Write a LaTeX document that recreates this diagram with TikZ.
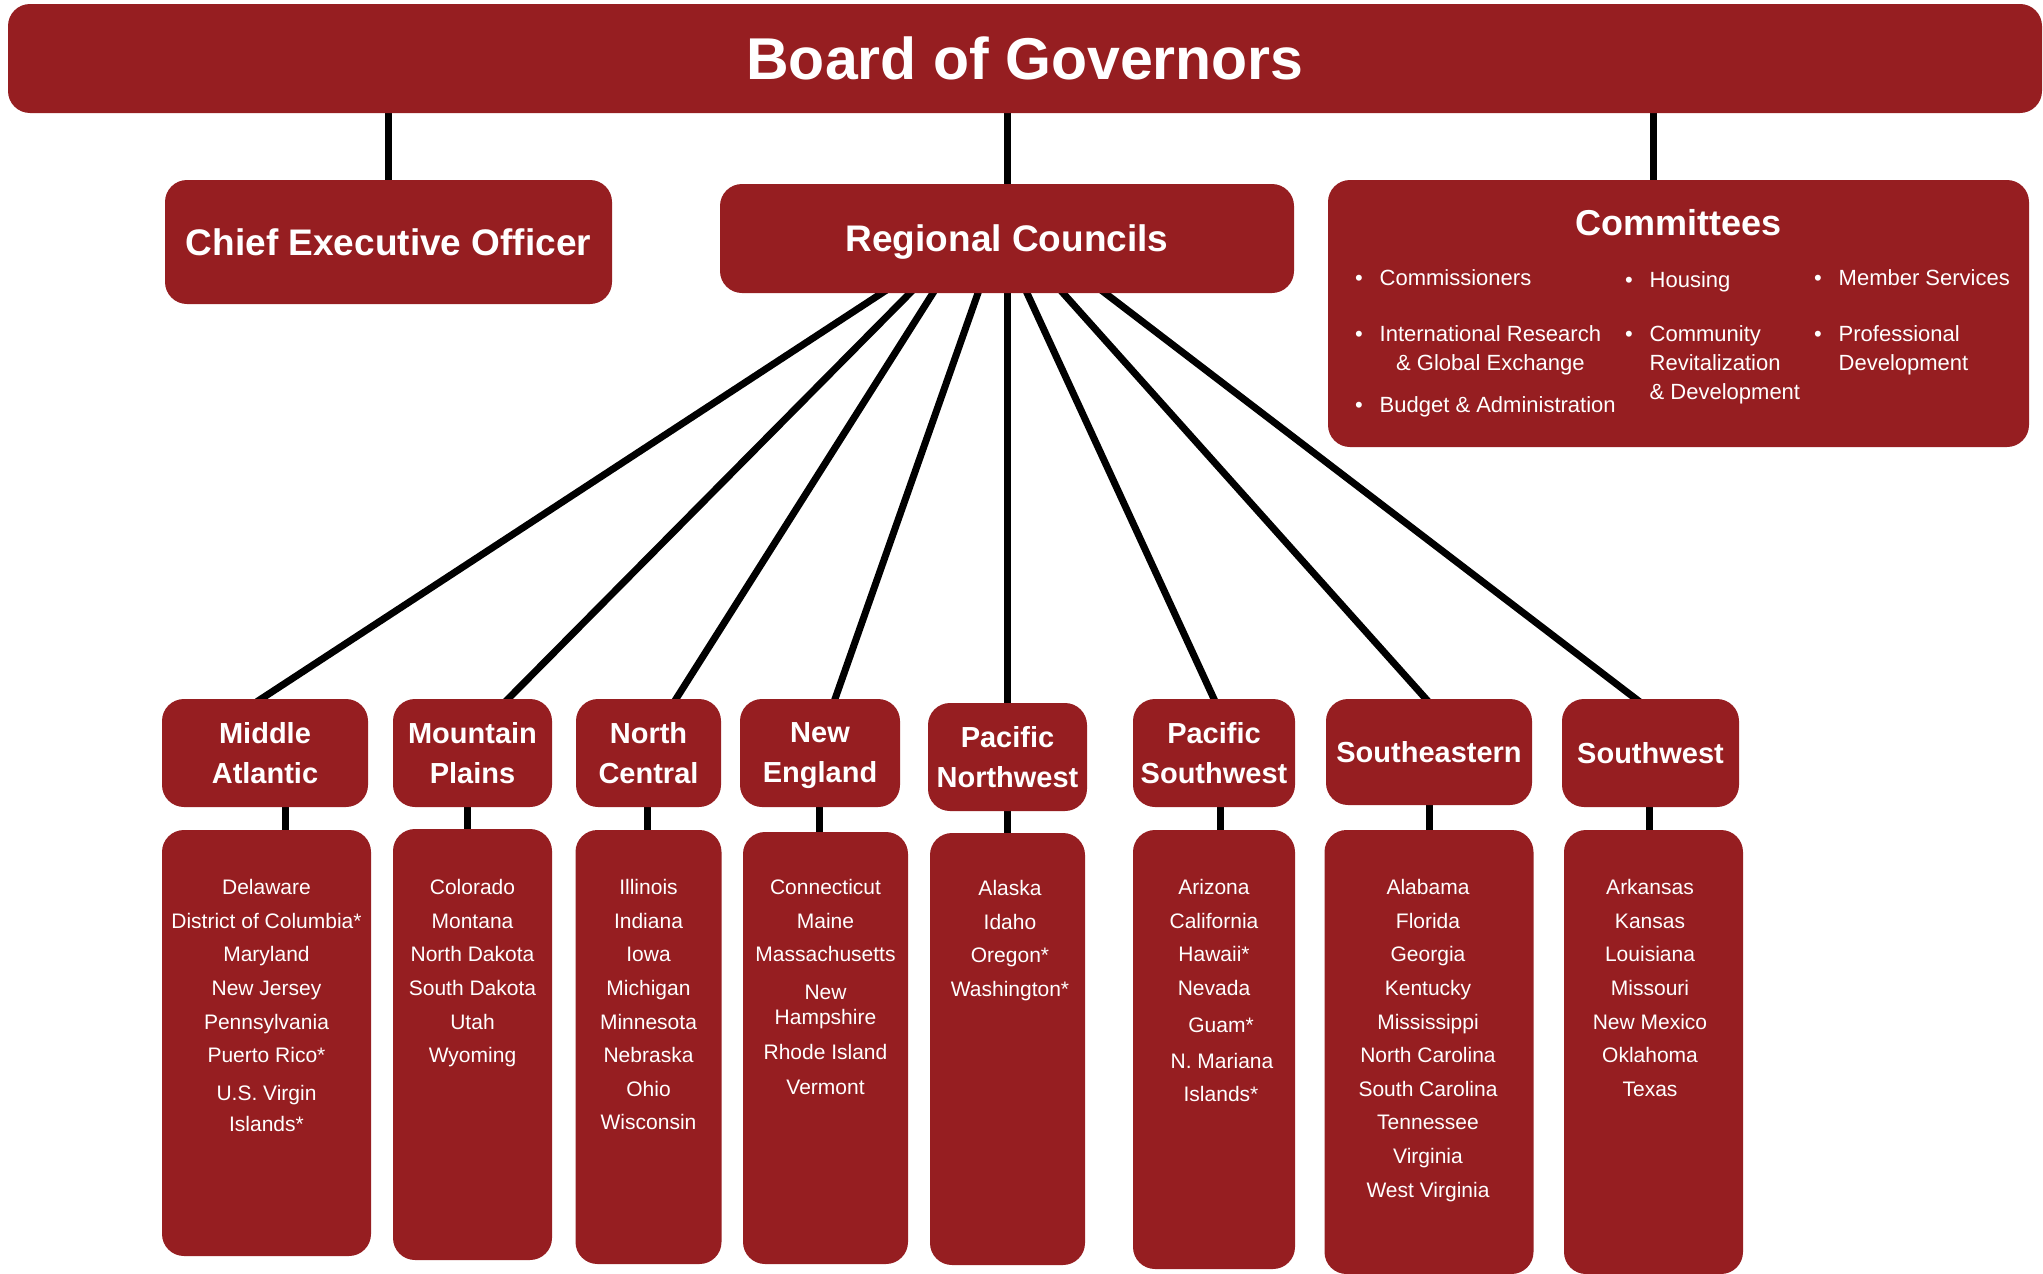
\documentclass[tikz,border=0pt]{standalone}
\usepackage{fontspec}
\setmainfont{Liberation Sans}
\usetikzlibrary{positioning,backgrounds}
\definecolor{govred}{RGB}{150,30,33}

\begin{document}
\begin{tikzpicture}[
        x=1pt, y=-1pt,
        every node/.style={text=white, align=center, inner sep=0pt, outer sep=0pt},
        box/.style={rectangle, rounded corners=22pt, fill=govred},
        regionbox/.style={box, minimum height=108pt, font=\fontsize{29}{40}\selectfont\bfseries},
        statelist/.style={font=\fontsize{21}{33.6}\selectfont},
        cmitem/.style={anchor=base west, align=left, font=\fontsize{22}{29}\selectfont},
        link/.style={line width=7pt, shorten <=-5pt, shorten >=-5pt}
    ]
    \useasboundingbox (0,0) rectangle (2043,1274);
    % Top level
    \node[box, minimum width=2034pt, minimum height=109pt, font=\fontsize{59}{70}\selectfont\bfseries] (board) at (1025,58.5) {Board of Governors};
    \node[box, minimum width=447pt, minimum height=124pt, font=\fontsize{37}{44}\selectfont\bfseries] (ceo) at (388.5,242) {Chief Executive Officer};
    \node[box, minimum width=574pt, minimum height=109pt, text depth=0pt, font=\fontsize{37}{44}\selectfont\bfseries] (councils) at (1007,238.5) {Regional Councils};
    \node[box, minimum width=701pt, minimum height=267pt] (comm) at (1678.5,313.5) {};
    \node[font=\fontsize{36}{43}\selectfont\bfseries, below=29pt of comm.north] (commTitle) {Committees};
    % Committee list
    \node[cmitem] (cmCommissioners) at (1355,285.5) {\textbullet\hspace{17pt}Commissioners};
    \node[cmitem] (cmHousing) at (1625,287.5) {\textbullet\hspace{17pt}Housing};
    \node[cmitem] (cmMember) at (1814,285.5) {\textbullet\hspace{17pt}Member Services};
    \node[cmitem] (cmResearch) at (1355,341) {\textbullet\hspace{17pt}\begin{tabular}[t]{@{}c@{}}International Research\\\& Global Exchange\end{tabular}};
    \node[cmitem] (cmCommunity) at (1625,341) {\textbullet\hspace{17pt}\begin{tabular}[t]{@{}l@{}}Community\\Revitalization\\\& Development\end{tabular}};
    \node[cmitem] (cmProfessional) at (1814,341) {\textbullet\hspace{17pt}\begin{tabular}[t]{@{}l@{}}Professional\\Development\end{tabular}};
    \node[cmitem] (cmBudget) at (1355,412.5) {\textbullet\hspace{17pt}Budget \& Administration};
    % Regional councils
    \node[regionbox, minimum width=206pt] (maHead) at (265,753) {Middle\\Atlantic};
    \node[regionbox, minimum width=159pt] (mpHead) at (472.5,753) {Mountain\\Plains};
    \node[regionbox, minimum width=145pt] (ncHead) at (648.5,753) {North\\Central};
    \node[regionbox, minimum width=160pt] (neHead) at (820,753) {New\\\raisebox{0pt}[\height][0pt]{England}};
    \node[regionbox, minimum width=159pt] (pnwHead) at (1007.5,757) {Pacific\\Northwest};
    \node[regionbox, minimum width=162pt] (pswHead) at (1214,753) {Pacific\\Southwest};
    \node[regionbox, minimum width=206pt, minimum height=106pt] (seHead) at (1429,752) {Southeastern};
    \node[regionbox, minimum width=177pt] (swHead) at (1650.5,753) {Southwest};
    % State boxes
    \node[box, minimum width=209pt, minimum height=426pt, below=23pt of maHead, xshift=1.5pt] (maBody) {};
    \node[box, minimum width=159pt, minimum height=431pt, below=22pt of mpHead] (mpBody) {};
    \node[box, minimum width=146pt, minimum height=434pt, below=23pt of ncHead] (ncBody) {};
    \node[box, minimum width=165pt, minimum height=432pt, below=25pt of neHead, xshift=5.5pt] (neBody) {};
    \node[box, minimum width=155pt, minimum height=432pt, below=22pt of pnwHead] (pnwBody) {};
    \node[box, minimum width=162pt, minimum height=439pt, below=23pt of pswHead] (pswBody) {};
    \node[box, minimum width=209pt, minimum height=444pt, below=25pt of seHead] (seBody) {};
    \node[box, minimum width=179pt, minimum height=444pt, below=23pt of swHead, xshift=3pt] (swBody) {};
    % State lists
    \node[statelist, below=49.5pt of maBody.north] (maList) {Delaware\\District of Columbia*\\Maryland\\New Jersey\\Pennsylvania\\Puerto Rico*\\[4pt]U.S. Virgin\\[-2pt]Islands*};
    \node[statelist, below=50.5pt of mpBody.north] (mpList) {Colorado\\Montana\\North Dakota\\South Dakota\\Utah\\Wyoming};
    \node[statelist, below=49.5pt of ncBody.north] (ncList) {Illinois\\Indiana\\Iowa\\Michigan\\Minnesota\\Nebraska\\Ohio\\Wisconsin};
    \node[statelist, below=47.5pt of neBody.north] (neList) {Connecticut\\Maine\\Massachusetts\\[4pt]New\\[-9pt]Hampshire\\[2pt]Rhode Island\\[1pt]Vermont};
    \node[statelist, below=47.5pt of pnwBody.north, xshift=2.5pt] (pnwList) {Alaska\\Idaho\\Oregon*\\Washington*};
    \node[statelist, below=49.5pt of pswBody.north] (pswList) {Arizona\\California\\Hawaii*\\Nevada\\[3pt]\hspace{14pt}Guam*\\[3pt]\hspace{16pt}N. Mariana\\[-1pt]\hspace{14pt}Islands*};
    \node[statelist, below=49.5pt of seBody.north, xshift=-1pt] (seList) {Alabama\\Florida\\Georgia\\Kentucky\\Mississippi\\North Carolina\\South Carolina\\Tennessee\\Virginia\\West Virginia};
    \node[statelist, below=49.5pt of swBody.north, xshift=-3.5pt] (swList) {Arkansas\\Kansas\\Louisiana\\Missouri\\New Mexico\\Oklahoma\\Texas};
    % Connectors
    \coordinate (commTop) at ([xshift=-25.5pt]comm.north);
    \begin{scope}[on background layer]
        \draw[link] (board.south -| ceo.north) -- (ceo.north);
        \draw[link] (board.south -| councils.north) -- (councils.north);
        \draw[link] (board.south -| commTop) -- (commTop);
        \draw[link] ([xshift=-125pt]councils.south) -- ([xshift=-4pt]maHead.north);
        \draw[link] ([xshift=-97pt]councils.south) -- ([xshift=35.5pt]mpHead.north);
        \draw[link] ([xshift=-74pt]councils.south) -- ([xshift=27.5pt]ncHead.north);
        \draw[link] ([xshift=-29pt]councils.south) -- ([xshift=15pt]neHead.north);
        \draw[link] (councils.south) -- (councils.south |- pnwHead.north);
        \draw[link] ([xshift=20pt]councils.south) -- (pswHead.north);
        \draw[link] ([xshift=56pt]councils.south) -- ([xshift=-3pt]seHead.north);
        \draw[link] ([xshift=98pt]councils.south) -- ([xshift=-14.5pt]swHead.north);
        \draw[link] ([xshift=20.5pt]maHead.south) -- ([xshift=20.5pt]maHead.south |- maBody.north);
        \draw[link] ([xshift=-5.5pt]mpHead.south) -- ([xshift=-5.5pt]mpHead.south |- mpBody.north);
        \draw[link] ([xshift=-1.5pt]ncHead.south) -- ([xshift=-1.5pt]ncHead.south |- ncBody.north);
        \draw[link] ([xshift=-1pt]neHead.south) -- ([xshift=-1pt]neHead.south |- neBody.north);
        \draw[link] (pnwHead.south) -- (pnwHead.south |- pnwBody.north);
        \draw[link] ([xshift=6pt]pswHead.south) -- ([xshift=6pt]pswHead.south |- pswBody.north);
        \draw[link] (seHead.south) -- (seHead.south |- seBody.north);
        \draw[link] ([xshift=-1.5pt]swHead.south) -- ([xshift=-1.5pt]swHead.south |- swBody.north);
    \end{scope}
\end{tikzpicture}
\end{document}
